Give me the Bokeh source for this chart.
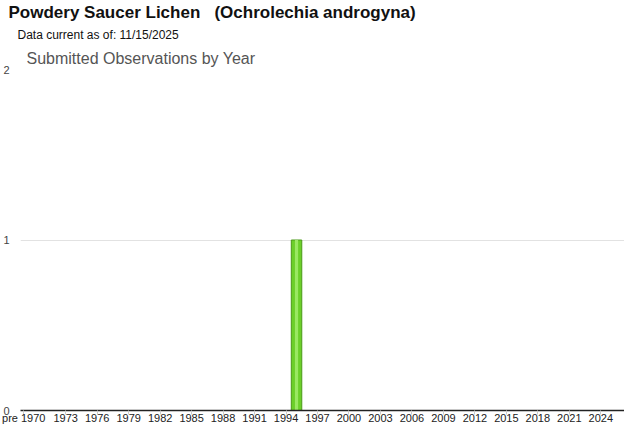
from bokeh.plotting import figure
from bokeh.models import Range1d, FixedTicker, Title, ColumnDataSource
from bokeh.embed import file_html
from bokeh.resources import INLINE

# ---- data ----
main_title = "Powdery Saucer Lichen \u00a0 (Ochrolechia androgyna)"
sub_title = "Data current as of: 11/15/2025"
chart_title = "Submitted Observations by Year"
obs_years = [1995]
obs_counts = [1]
tick_years = [1969, 1973, 1976, 1979, 1982, 1985, 1988, 1991, 1994, 1997,
              2000, 2003, 2006, 2009, 2012, 2015, 2018, 2021, 2024]
tick_labels = ["pre 1970", "1973", "1976", "1979", "1982", "1985", "1988", "1991",
               "1994", "1997", "2000", "2003", "2006", "2009", "2012", "2015",
               "2018", "2021", "2024"]
y_ticks = [0, 1, 2]

FONT = "Liberation Sans"

p = figure(width=624, height=426, output_backend="svg", toolbar_location=None,
           x_range=Range1d(1968.69, 2026.26), y_range=Range1d(0, 2),
           min_border_left=0, min_border_right=0, min_border_bottom=0, min_border_top=0)
p.outline_line_color = None
p.background_fill_color = "white"
p.border_fill_color = "white"

src = ColumnDataSource(dict(x=obs_years, top=obs_counts))
p.vbar(x="x", top="top", bottom=0, width=1.0, source=src,
       fill_color="#6ccf2a", line_color="#4a9a18", line_width=1)
p.vbar(x="x", top="top", bottom=0, width=0.3, source=src,
       fill_color="#9ae862", line_color=None)

# x axis
xa = p.xaxis[0]
xa.ticker = FixedTicker(ticks=tick_years)
xa.major_label_overrides = {t: l for t, l in zip(tick_years, tick_labels)}
xa.axis_line_color = "#222222"
xa.axis_line_width = 1.5
xa.major_tick_line_color = "#cccccc"
xa.major_tick_in = 0
xa.major_tick_out = 4
xa.minor_tick_line_color = None
xa.major_label_standoff = -3
xa.major_label_text_font = FONT
xa.major_label_text_font_size = "11px"
xa.major_label_text_color = "#222222"

# y axis
ya = p.yaxis[0]
ya.ticker = FixedTicker(ticks=y_ticks)
ya.axis_line_color = None
ya.major_tick_line_color = None
ya.minor_tick_line_color = None
ya.major_label_standoff = 5
ya.major_label_text_font = FONT
ya.major_label_text_font_size = "11px"
ya.major_label_text_color = "#444444"

p.xgrid.grid_line_color = None
p.ygrid.ticker = FixedTicker(ticks=[1, 2])
p.ygrid.grid_line_color = "#e2e2e2"

# titles (p.title is outermost; first added "above" is nearest the frame)
p.title.text = main_title
p.title.text_font = FONT
p.title.text_font_size = "17px"
p.title.text_font_style = "bold"
p.title.text_color = "#111111"
p.title.offset = -12
p.title.standoff = 0

t_chart = Title(text=chart_title, text_font=FONT, text_font_size="16px",
                text_font_style="normal", text_color="#555555", offset=6, standoff=5)
p.add_layout(t_chart, "above")
t_sub = Title(text=sub_title, text_font=FONT, text_font_size="12px",
              text_font_style="normal", text_color="#111111", offset=-3, standoff=8)
p.add_layout(t_sub, "above")

open("out.html", "w").write(file_html(p, INLINE))
